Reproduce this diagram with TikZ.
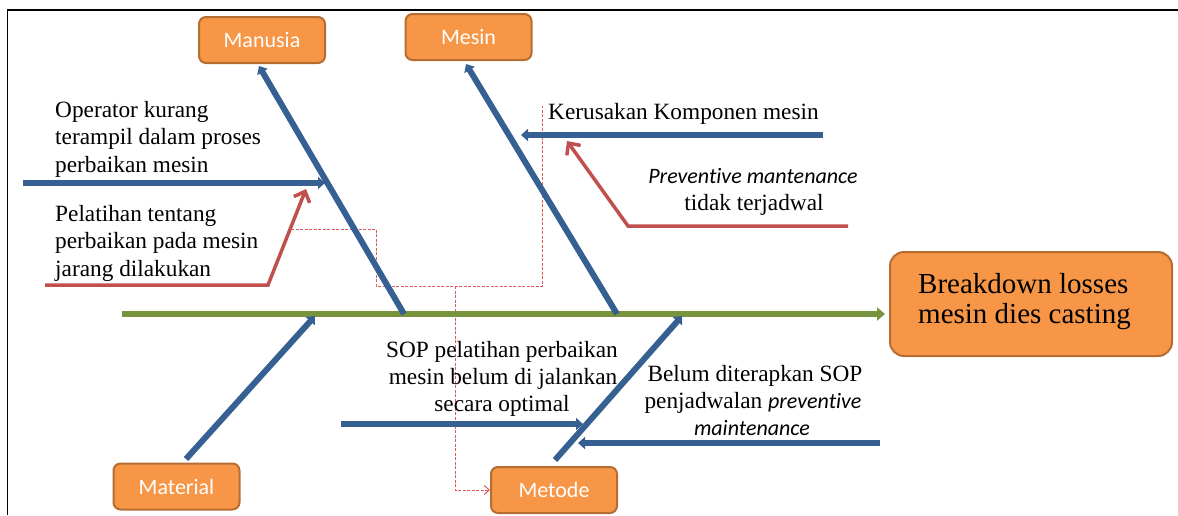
\documentclass[tikz,border=0pt]{standalone}
\usepackage{fontspec}
\setmainfont{Liberation Serif}
\newfontfamily\carl[Ligatures=NoCommon]{Carlito}
\usetikzlibrary{arrows.meta}
\definecolor{bonebl}{HTML}{376092}
\definecolor{spinegr}{HTML}{77933C}
\definecolor{causered}{HTML}{C0504D}
\definecolor{dashred}{HTML}{E0585A}
\definecolor{boxor}{HTML}{F79646}
\definecolor{boxedge}{HTML}{B66D31}
\tikzset{
  catbox/.style={draw=boxedge, line width=2pt, fill=boxor, rounded corners=7pt,
    minimum width=126pt, minimum height=46pt, inner sep=0pt, text=white,
    font=\carl\fontsize{22}{26}\selectfont},
  effbox/.style={draw=boxedge, line width=2pt, fill=boxor, rounded corners=14pt,
    minimum width=282pt, minimum height=104pt, inner sep=0pt},
  bone/.style={draw=bonebl, line width=6pt, -{Triangle[length=7pt,width=12pt]}},
  spineln/.style={draw=spinegr, line width=6pt, -{Triangle[length=8pt,width=13pt]}},
  redarrow/.style={draw=causered, line width=3.5pt, line join=miter,
    -{Straight Barb[length=9pt,width=17pt]}},
  dashln/.style={draw=dashred, line width=1pt, dash pattern=on 3pt off 1.5pt},
  txt/.style={inner sep=0pt, font=\fontsize{23.3}{28}\selectfont},
  bigtxt/.style={inner sep=0pt, font=\fontsize{29}{30}\selectfont},
}
\begin{document}
\begin{tikzpicture}[x=1pt,y=-1pt]
\useasboundingbox (0,0) rectangle (1178,515);
% frame
\draw[line width=1.8pt] (7.5,515) -- (7.5,10) -- (1178,10);

% category boxes
\node[catbox] (manusia) at (262,40) {Manusia};
\node[catbox] (mesin) at (468.5,37) {Mesin};
\node[catbox] (material) at (176.5,486.5) {Material};
\node[catbox] (metode) at (554,490) {Metode};
\node[effbox] (effect) at (1031,304) {};
\node[bigtxt, anchor=base west] (eff1) at (918,293) {Breakdown losses};
\node[bigtxt, anchor=base west] (eff2) at (918,323) {mesin dies casting};

% coordinates
\coordinate (s0) at (122,314);
\coordinate (s1) at (885,314);
\coordinate (manB) at (404,314);
\coordinate (manT) at (259,66);
\coordinate (mesB) at (617,314);
\coordinate (mesT) at (466,64);
\coordinate (matB) at (186,459);
\coordinate (matT) at (315,316);
\coordinate (metB) at (555,460);
\coordinate (metT) at (682,316);
\coordinate (sb1a) at (23,183);
\coordinate (sb1b) at (325,183);
\coordinate (sb2a) at (823,135);
\coordinate (sb2b) at (521,135);
\coordinate (sb3a) at (341,424);
\coordinate (sb3b) at (583,424);
\coordinate (sb4a) at (880,443);
\coordinate (sb4b) at (578,443);
\coordinate (r1a) at (45,285);
\coordinate (r1b) at (268,285);
\coordinate (r1c) at (306,189);
\coordinate (r2a) at (848,226);
\coordinate (r2b) at (628,226);
\coordinate (r2c) at (567,141);
\coordinate (d0) at (291,229);
\coordinate (d1) at (376,229);
\coordinate (d2) at (376,286);
\coordinate (d3) at (542,286);
\coordinate (d4) at (542,106);
\coordinate (d5) at (455,286);
\coordinate (d6) at (455,490);

% dashed red path
\draw[dashln] (d0) -- (d1) -- (d2) -- (d3) -- (d4);
\draw[dashln, -{Straight Barb[length=5pt,width=9pt]}] (d5) -- (d6) -- (metode.west);

% spine
\draw[spineln] (s0) -- (s1);

% main bones
\draw[bone] (manB) -- (manT);
\draw[bone] (mesB) -- (mesT);
\draw[bone] (matB) -- (matT);
\draw[bone] (metB) -- (metT);

% sub bones
\draw[bone] (sb1a) -- (sb1b);
\draw[bone] (sb2a) -- (sb2b);
\draw[bone] (sb3a) -- (sb3b);
\draw[bone] (sb4a) -- (sb4b);

% red cause arrows
\draw[redarrow] (r1a) -- (r1b) -- (r1c);
\draw[redarrow] (r2a) -- (r2b) -- (r2c);

% texts
\node[txt, anchor=base west] (op1) at (55,117) {Operator kurang};
\node[txt, anchor=base west] (op2) at (55,144) {terampil dalam proses};
\node[txt, anchor=base west] (op3) at (55,172) {perbaikan mesin};

\node[txt, anchor=base west] (pl1) at (55,221) {Pelatihan tentang};
\node[txt, anchor=base west] (pl2) at (55,248) {perbaikan pada mesin};
\node[txt, anchor=base west] (pl3) at (55,276) {jarang dilakukan};

\node[txt, anchor=base west] (kr1) at (548,119) {Kerusakan Komponen mesin};

\node[txt, anchor=base] (pm1) at (753,183) {{\carl\itshape\fontsize{22}{26}\selectfont Preventive mantenance}};
\node[txt, anchor=base] (pm2) at (754,210) {tidak terjadwal};

\node[txt, anchor=base] (sop1) at (502,357) {SOP pelatihan perbaikan};
\node[txt, anchor=base] (sop2) at (503,384) {mesin belum di jalankan};
\node[txt, anchor=base] (sop3) at (502,411) {secara optimal};

\node[txt, anchor=base] (bl1) at (755,381) {Belum diterapkan SOP};
\node[txt, anchor=base] (bl2) at (753,408) {penjadwalan {\carl\itshape\fontsize{22}{26}\selectfont preventive}};
\node[txt, anchor=base] (bl3) at (752,435) {{\carl\itshape\fontsize{22}{26}\selectfont maintenance}};
\end{tikzpicture}
\end{document}
